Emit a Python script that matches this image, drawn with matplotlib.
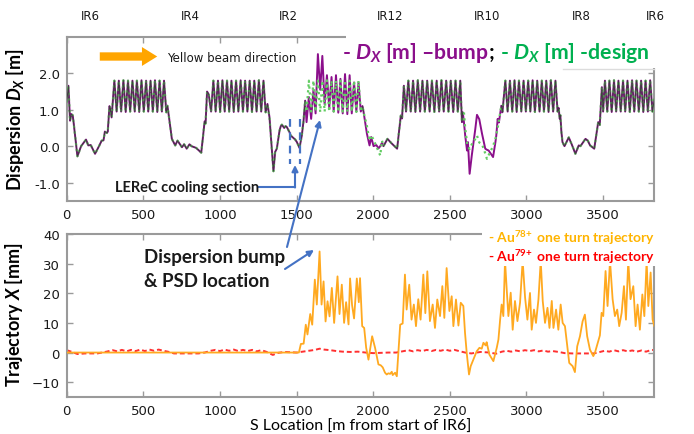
"""Dispersion bump and one-turn trajectory in RHIC"""

import matplotlib
matplotlib.use("Agg")
from matplotlib import pyplot as plt
from matplotlib.patches import Rectangle, FancyArrowPatch
from matplotlib.lines import Line2D
from matplotlib.ticker import FormatStrFormatter

# ---- design dispersion around the ring (s [m], Dx [m]) ----
design_s = [
    # IR6
    0, 11, 22, 30, 39, 45, 70, 94, 126, 141, 157, 185, 211, 228, 240, 249, 262, 268, 279, 284, 293,
    # arc 6-4
    311, 326, 340, 355, 370, 385, 400, 414, 429, 444, 458, 473, 488, 503, 518, 532, 547, 562,
    576, 591, 606, 621, 635, 650,
    # IR4
    657, 669, 686, 708, 723, 752, 766, 783, 801, 814, 845, 878, 900, 906, 916, 927,
    # arc 4-2
    942, 957, 972, 987, 1001, 1016, 1031, 1046, 1060, 1075, 1090, 1105, 1120, 1135, 1150, 1164,
    1179, 1194, 1209, 1224, 1239, 1254, 1269, 1284, 1298,
    # IR2
    1310, 1323, 1349, 1360, 1371, 1389, 1397, 1404, 1419, 1428, 1437, 1454, 1462, 1491, 1502,
    1519, 1534, 1545, 1556,
    # arc 2-12
    1565, 1580, 1595, 1610, 1624, 1639, 1654, 1668, 1683, 1698, 1713, 1728, 1742, 1757, 1772,
    1786, 1801, 1816, 1831, 1846, 1860, 1875, 1890, 1904, 1919,
    # IR12
    1930, 1937, 1959, 1976, 1987, 2002, 2020, 2035, 2046, 2057, 2067, 2093, 2119, 2156, 2180,
    2188, 2200,
    # arc 12-10
    2214, 2229, 2245, 2260, 2275, 2291, 2306, 2321, 2337, 2352, 2368, 2383, 2399, 2414, 2430,
    2445, 2460, 2476, 2491, 2506, 2522, 2537, 2552, 2568,
    # IR10
    2579, 2584, 2591, 2600, 2612, 2618, 2629, 2643, 2666, 2677, 2692, 2710, 2731, 2742, 2753,
    2782, 2797, 2803, 2812, 2820, 2836, 2843,
    # arc 10-8
    2862, 2877, 2892, 2907, 2922, 2936, 2951, 2966, 2981, 2996, 3011, 3025, 3040, 3055, 3070,
    3085, 3100, 3114, 3129, 3144, 3159, 3174, 3189, 3203,
    # IR8
    3210, 3217, 3221, 3228, 3235, 3248, 3276, 3298, 3319, 3341, 3352, 3385, 3400, 3415, 3442,
    3468, 3478, 3492,
    # arc 8-6
    3500, 3512, 3527, 3541, 3556, 3571, 3585, 3600, 3615, 3630, 3644, 3659, 3674, 3689, 3703,
    3718, 3733, 3748, 3762, 3777, 3792, 3807, 3822, 3834,
]
design_dx = [
    1.20, 1.66, 0.70, 0.88, 0.85, 0.65, -0.28, 0.00, 0.18, 0.02, 0.03, -0.21, 0.00, 0.15, 0.16,
    0.40, 0.36, 0.40, 1.10, 1.05, 0.79,
    1.80, 0.95, 1.80, 0.95, 1.81, 0.94, 1.80, 0.95, 1.80, 0.95, 1.80, 0.94, 1.81, 0.95, 1.80,
    0.95, 1.80, 0.95, 1.81, 0.94, 1.80, 0.95, 1.80, 0.93,
    1.11, 0.75, 0.20, 0.02, 0.15, -0.03, 0.05, -0.07, 0.05, 0.00, -0.05, -0.18, 0.68, 0.62,
    1.50, 1.42,
    0.95, 1.80, 0.95, 1.80, 0.94, 1.81, 0.95, 1.80, 0.95, 1.80, 0.94, 1.80, 0.95, 1.81, 0.95,
    1.80, 0.95, 1.80, 0.94, 1.80, 0.95, 1.81, 0.95, 1.80, 0.93,
    1.16, 0.80, -0.69, -0.16, -0.07, 0.43, 0.55, 0.59, 0.50, 0.55, 0.52, 0.38, 0.29, 0.18, 0.11,
    -0.05, 0.29, 0.68, 1.25,
    0.95, 1.80, 0.95, 1.80, 0.95, 1.80, 0.94, 1.80, 0.95, 1.81, 0.95, 1.80, 0.95, 1.80, 0.94,
    1.80, 0.95, 1.81, 0.95, 1.80, 0.95, 1.80, 0.94, 1.80, 0.95,
    1.10, 0.94, 0.55, 0.15, 0.30, 0.18, 0.00, -0.15, -0.26, 0.15, 0.00, 0.20, 0.08, -0.07, 0.84,
    0.76, 1.66,
    0.95, 1.80, 0.95, 1.80, 0.94, 1.81, 0.95, 1.80, 0.95, 1.80, 0.95, 1.80, 0.94, 1.80, 0.95,
    1.81, 0.95, 1.80, 0.95, 1.80, 0.94, 1.80, 0.95, 1.80,
    0.66, 0.93, 0.98, 0.50, 0.10, 0.00, -0.08, 0.05, 0.20, 0.29, 0.10, 0.05, -0.20, -0.35, -0.25,
    0.00, 0.20, 0.30, 0.50, 0.70, 1.11, 0.93,
    1.80, 0.95, 1.80, 0.95, 1.81, 0.94, 1.80, 0.95, 1.80, 0.95, 1.80, 0.95, 1.81, 0.94, 1.80,
    0.95, 1.80, 0.95, 1.80, 0.94, 1.81, 0.95, 1.80, 0.95,
    1.05, 0.75, 0.85, 0.38, 0.11, 0.00, 0.24, 0.02, -0.21, 0.02, 0.00, 0.20, 0.15, 0.02, -0.07,
    0.66, 0.58, 1.62,
    0.95, 1.80, 0.95, 1.80, 0.94, 1.81, 0.95, 1.80, 0.95, 1.80, 0.95, 1.80, 0.94, 1.81, 0.95,
    1.80, 0.95, 1.80, 0.94, 1.80, 0.95, 1.81, 0.95, 1.30,
]

# ---- Dx with the bump: only the points that differ from design ----
bump_s = [
    1565, 1580, 1595, 1610, 1624, 1639, 1654, 1668, 1683, 1698, 1713, 1728, 1742, 1757, 1772,
    1786, 1801, 1816, 1831, 1846, 1860, 1875, 1890, 1904, 1919,
    1959, 1976, 1987, 2002, 2020, 2035, 2046, 2057,
    2591, 2600, 2612, 2618, 2629, 2643, 2666, 2677, 2692, 2710, 2731, 2742, 2753, 2782, 2797,
    2803, 2812, 2820,
]
bump_dx = [
    0.66, 1.35, 0.75, 1.55, 0.90, 2.53, 1.55, 2.48, 1.15, 1.95, 1.05, 1.90, 0.95, 1.95, 0.92,
    1.85, 0.90, 1.98, 0.88, 1.95, 0.90, 1.75, 0.95, 1.75, 0.95,
    0.34, 0.02, 0.25, 0.00, 0.03, -0.06, 0.00, 0.09,
    0.70, 0.30, -0.12, 0.11, -0.76, -0.26, 0.47, 0.86, 0.74, 0.34, -0.07, -0.10, -0.12, -0.30,
    0.10, 0.29, 0.75, 0.65,
]

# ---- one turn trajectories [mm] ----
au78_s = [
    0, 1515, 1528, 1546, 1560, 1571, 1589, 1602, 1619, 1632, 1650, 1663, 1676, 1689, 1702,
    1715, 1730, 1745, 1767, 1780, 1795, 1810, 1823, 1839, 1849, 1862, 1875, 1893, 1906, 1914,
    1928, 1941, 1954, 1969, 1993, 2012, 2034, 2049, 2062, 2077, 2088, 2099, 2110, 2121, 2127,
    2143, 2154, 2176, 2192, 2207, 2218, 2235, 2250, 2265, 2279, 2294, 2309, 2327, 2340, 2353,
    2370, 2388, 2403, 2418, 2436, 2451, 2464, 2479, 2497, 2512, 2523, 2540, 2556, 2571, 2588,
    2599, 2610, 2625, 2636, 2653, 2675, 2693, 2708, 2719, 2734, 2740, 2758, 2784, 2806, 2817,
    2828, 2838, 2849, 2860, 2871, 2882, 2897, 2910, 2925, 2941, 2958, 2975, 2991, 3006, 3023,
    3034, 3049, 3062, 3078, 3093, 3106, 3121, 3137, 3150, 3165, 3176, 3193, 3208, 3223, 3236,
    3251, 3266, 3279, 3301, 3316, 3331, 3349, 3366, 3381, 3396, 3414, 3436, 3447, 3462, 3479,
    3490, 3501, 3516, 3529, 3545, 3562, 3577, 3592, 3605, 3621, 3636, 3649, 3664, 3679, 3697,
    3712, 3725, 3740, 3756, 3769, 3784, 3795, 3810, 3823, 3834,
]
au78_x = [
    0.0, 0.0, 2.9, 3.0, 9.4, 6.1, 13.0, 9.4, 24.6, 16.2, 34.1, 16.2, 24.0, 10.5, 17.3,
    12.2, 21.8, 10.0, 25.7, 13.0, 22.9, 10.0, 17.0, 9.5, 25.0, 16.0, 11.5, 25.0, 17.0, 25.1,
    8.9, 8.3, 1.6, -2.4, 5.5, 1.6, -4.0, -4.3, -5.0, -6.8, -7.4, -7.0, -7.2, -6.5, -7.6,
    -6.8, -8.0, 9.4, 9.8, 26.3, 14.5, 22.9, 11.1, 16.2, 8.9, 18.0, 11.1, 26.3, 13.3, 27.4,
    10.6, 16.2, 8.3, 17.9, 12.3, 22.4, 11.7, 28.5, 14.0, 19.0, 8.9, 17.9, 9.1, 16.8, 15.7,
    6.6, -0.1, -7.4, -4.6, -2.4, 0.4, 1.6, 1.3, 3.3, 2.4, 3.5, -0.7, -2.9, 1.6, 4.4,
    11.1, 16.2, 12.3, 31.0, 21.3, 12.3, 20.2, 7.7, 17.4, 10.6, 16.8, 31.0, 18.5, 11.1, 20.1,
    7.7, 14.5, 10.0, 17.9, 31.0, 17.4, 10.0, 15.1, 8.3, 17.4, 8.3, 14.5, 7.7, 16.2, 10.0,
    8.9, 2.1, -3.5, -4.6, -6.6, 2.1, 5.5, 10.5, 12.8, 5.5, 1.0, -1.2, 0.0, 2.7, 5.8,
    13.4, 12.3, 27.5, 15.7, 31.0, 18.0, 12.3, 14.5, 8.9, 13.4, 22.4, 11.1, 31.0, 18.0, 22.4,
    8.9, 16.2, 7.7, 19.6, 12.3, 31.0, 15.7, 27.0, 11.1, 9.0,
]
au79_s = [
    0, 30, 70, 120, 200, 260, 300, 330, 360, 390, 420, 450, 480, 510, 540, 570, 600, 630, 660,
    700, 780, 860, 900, 940, 970, 1000, 1030, 1060, 1090, 1120, 1150, 1180, 1210, 1240, 1270,
    1300, 1345, 1380, 1420, 1460, 1500, 1540, 1580, 1620, 1650, 1680, 1720, 1760, 1800, 1850,
    1900, 1950, 2000, 2050, 2100, 2150, 2200, 2230, 2260, 2290, 2320, 2350, 2380, 2410, 2440,
    2470, 2500, 2530, 2560, 2600, 2640, 2700, 2760, 2800, 2840, 2870, 2900, 2930, 2960, 2990,
    3020, 3050, 3080, 3110, 3140, 3170, 3210, 3250, 3300, 3350, 3400, 3440, 3480, 3510, 3540,
    3570, 3600, 3630, 3660, 3690, 3720, 3750, 3780, 3810, 3834,
]
au79_x = [
    0.8, 0.3, -0.5, -0.3, -0.3, 0.3, 0.8, 0.4, 0.9, 0.4, 0.9, 0.5, 1.0, 0.5, 1.0, 0.6, 1.0, 0.6,
    0.3, -0.3, -0.3, -0.3, 0.0, 0.6, 0.9, 0.5, 1.0, 0.6, 1.0, 0.5, 0.9, 0.5, 0.9, 0.4, 0.8,
    0.3, -0.8, -0.1, 0.2, 0.1, 0.0, 0.3, 0.6, 0.9, 1.3, 1.0, 0.8, 0.5, 0.3, 0.2,
    0.3, 0.0, -0.2, -0.1, 0.0, 0.0, 0.5, 0.8, 0.4, 0.8, 0.5, 0.9, 0.5, 0.9, 0.6,
    1.0, 0.6, 0.9, 0.5, 0.0, -0.3, 0.2, 0.0, -0.4, 0.3, 0.6, 0.3, 0.7, 0.4, 0.8,
    0.5, 0.8, 0.4, 0.7, 0.3, 0.5, 0.2, -0.2, -0.3, -0.3, -0.3, -0.3, 0.2, 0.6, 0.3,
    0.8, 0.4, 0.8, 0.4, 0.7, 0.3, 0.7, 0.3, 0.8, 0.9,
]

ir_names = ['IR6', 'IR4', 'IR2', 'IR12', 'IR10', 'IR8', 'IR6']
ir_s = [152, 806, 1445, 2110, 2745, 3359, 3842]

RING = 3834
W, H = 694, 435
PURPLE = '#8B0F8B'
GREEN = '#00B050'
BLUE = '#4472C4'


def fxy(px, py):
    """pixel position in the picture -> figure fraction"""
    return px / W, 1 - py / H


def style_axes(ax):
    for sp in ax.spines.values():
        sp.set_color('#9a9a9a')
        sp.set_linewidth(1.5)
    ax.tick_params(direction='in', top=True, right=True, length=4, width=1,
                   color='#9a9a9a', labelsize=9.5, labelcolor='#1a1a1a', pad=5)
    ax.set_xlim(0, RING)
    ax.set_xticks([0, 500, 1000, 1500, 2000, 2500, 3000, 3500])


plt.rcParams['mathtext.fontset'] = 'custom'
plt.rcParams['mathtext.rm'] = 'Lato:bold'
plt.rcParams['mathtext.it'] = 'Lato:bold:italic'
plt.rcParams['mathtext.bf'] = 'Lato:bold'

bump_map = dict(zip(bump_s, bump_dx))
dx_bump = [bump_map.get(s, d) for s, d in zip(design_s, design_dx)]
# where bump and design coincide the two curves merge into a dark trace
dx_common = [d if s not in bump_map else float('nan') for s, d in zip(design_s, design_dx)]

fig = plt.figure(figsize=(6.94, 4.35), dpi=100)
ax1 = fig.add_axes([66.7 / W, 1 - 201.7 / H, 587.6 / W, 163.7 / H])
ax2 = fig.add_axes([66.7 / W, 1 - 398 / H, 587.6 / W, 163 / H])

# top: dispersion
ax1.plot(design_s, dx_bump, color=PURPLE, lw=1.4, zorder=2)
ax1.plot(design_s, design_dx, color='#62CC62', lw=1.6, ls=':', zorder=3)
ax1.plot(design_s, dx_common, color='#433843', lw=0.7, zorder=3.5)
style_axes(ax1)
ax1.set_ylim(-1.5, 3.0)
ax1.set_yticks([-1.0, 0.0, 1.0, 2.0])
ax1.yaxis.set_major_formatter(FormatStrFormatter('%.1f'))
ax1.set_ylabel('Dispersion $D_X$ [m]', family='Lato', weight='bold', fontsize=13)
ax1.yaxis.set_label_coords(-0.069, 0.5)

for name, s in zip(ir_names, ir_s):
    ax1.text(s, 1.134, name, transform=ax1.get_xaxis_transform(), ha='center',
             va='center', fontsize=8.5, color='#1a1a1a', clip_on=False)

# LEReC cooling section markers
for s in [1458, 1523]:
    ax1.plot([s, s], [0.75, -0.48], color=BLUE, lw=1.6, ls=(0, (3.5, 2.5)), zorder=4)

# bottom: trajectories
ax2.plot(au78_s, au78_x, color='#FFA920', lw=1.3, zorder=3)
ax2.plot(au79_s, au79_x, color='#FF3030', lw=1.4, ls=(0, (2.5, 1.5)), zorder=2)
style_axes(ax2)
ax2.set_ylim(-15, 40)
ax2.set_yticks([-10, 0, 10, 20, 30, 40])
ax2.set_ylabel('Trajectory $X$ [mm]', family='Lato', weight='bold', fontsize=13)
ax2.yaxis.set_label_coords(-0.071, 0.51)
ax2.set_xlabel('S Location [m from start of IR6]', family='Lato', fontsize=11.5)
ax2.xaxis.label.set_va('center')
ax2.xaxis.set_label_coords(0.5, -0.178)

# white boxes carrying the legend texts
for x0, y0, x1, y1 in [(346, 30, 662, 69), (482, 228, 662, 267)]:
    fig.add_artist(Rectangle(fxy(x0, y1), (x1 - x0) / W, (y1 - y0) / H,
                             transform=fig.transFigure, fc='white', ec='none', zorder=2))
fig.add_artist(Line2D([563 / W, 654 / W], [1 - 69.5 / H] * 2, transform=fig.transFigure,
                      color='#dcdcdc', lw=1, zorder=2.5))

# top legend: purple / black / green pieces
renderer = fig.canvas.get_renderer()
x = 342
for txt, col in [('- $D_X$ [m] \u2013bump', PURPLE), (';', 'black'),
                 (' - $D_X$ [m] -design', GREEN)]:
    t = fig.text(*fxy(x, 53), txt, color=col, family='Lato', weight='bold', fontsize=15.3,
                 ha='left', va='center', zorder=3)
    x += t.get_window_extent(renderer).width

fig.text(*fxy(488, 238), r'- Au$^{78\!+}$ one turn trajectory', color='#FFB400',
         family='Lato', weight='bold', fontsize=10, ha='left', va='center', zorder=3)
fig.text(*fxy(488, 257), r'- Au$^{79\!+}$ one turn trajectory', color='#FF0000',
         family='Lato', weight='bold', fontsize=10, ha='left', va='center', zorder=3)

# yellow beam direction arrow
fig.add_artist(FancyArrowPatch(fxy(97, 57.5), fxy(160, 57.5), transform=fig.transFigure,
                               arrowstyle='simple,head_length=0.55,head_width=0.68,tail_width=0.3',
                               mutation_scale=20, color='#FFA500', lw=0, zorder=3))
fig.text(*fxy(167, 58), 'Yellow beam direction', fontsize=8.5, color='#1a1a1a',
         ha='left', va='center', zorder=3)

# LEReC label and arrow
fig.text(*fxy(115, 188), 'LEReC cooling section', family='Lato', weight='bold',
         fontsize=10.5, color='#1a1a1a', ha='left', va='center', zorder=3)
fig.add_artist(Line2D([258 / W, 295 / W], [1 - 188 / H] * 2, transform=fig.transFigure,
                      color=BLUE, lw=1.5, zorder=3))
fig.add_artist(FancyArrowPatch(fxy(295, 188.5), fxy(295, 166), transform=fig.transFigure,
                               arrowstyle='-|>', mutation_scale=9, color=BLUE, lw=1.5,
                               shrinkA=0, shrinkB=0, zorder=3))

# dispersion bump / PSD annotation
fig.text(*fxy(144, 257), 'Dispersion bump', family='Lato', weight='bold', fontsize=13.5,
         color='#1a1a1a', ha='left', va='center', zorder=3)
fig.text(*fxy(144, 282), '& PSD location', family='Lato', weight='bold', fontsize=13.5,
         color='#1a1a1a', ha='left', va='center', zorder=3)
for a, b in [((287, 248), (320, 121)), ((285, 270), (314, 251))]:
    fig.add_artist(FancyArrowPatch(fxy(*a), fxy(*b), transform=fig.transFigure,
                                   arrowstyle='-|>', mutation_scale=9, color=BLUE, lw=1.5,
                                   shrinkA=0, shrinkB=0, zorder=3))

fig.savefig('out.png', dpi=100)
